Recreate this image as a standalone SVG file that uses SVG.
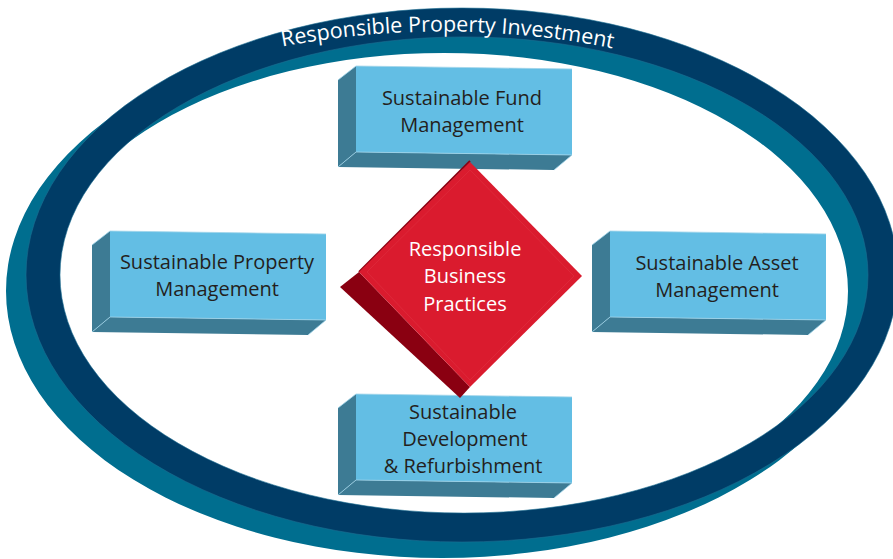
<svg xmlns="http://www.w3.org/2000/svg" width="893" height="559" viewBox="0 0 893 559">
  <defs>
    <style>
      .ring-navy { fill: #003c66; fill-rule: evenodd; stroke: #1d6e92; stroke-width: 0.6; }
      .ring-teal { fill: #006e8f; fill-rule: evenodd; }
      .ring-label { font-family: "Open Sans", "Liberation Sans", sans-serif; font-size: 21.5px; fill: #ffffff; }
      .face-front { fill: #63bee4; }
      .face-side { fill: #3d7b94; }
      .crease { fill: none; stroke: #9fd4ea; stroke-width: 0.8; }
      .box-label { font-family: "Open Sans", "Liberation Sans", sans-serif; font-size: 20px; fill: #231f20; text-anchor: middle; }
      .core-front { fill: #da1b2e; }
      .core-side { fill: #8a0011; }
      .core-label { font-family: "Open Sans", "Liberation Sans", sans-serif; font-size: 20px; fill: #ffffff; text-anchor: middle; }
    </style>
    <!-- one 3D block: front face at (0,0), receding toward lower-left -->
    <g id="block">
      <polygon class="face-side" points="0,0 -18,14 -18,101 0,86"/>
      <polygon class="face-side" points="0,86 -18,101 198,104 216,89"/>
      <polygon class="face-front" points="0,0 216,3 216,89 0,86"/>
      <polyline class="crease" points="-18,14 0,0 216,3"/>
      <polyline class="crease" points="-18,101 0,86 216,89 198,104"/>
    </g>
    <path id="ringTextPath" d="M265,50 Q447,12 630,52"/>
  </defs>

  <rect width="893" height="559" fill="#ffffff"/>

  <!-- outer ring: teal thickness behind, navy top face in front -->
  <g id="ring">
    <path class="ring-teal" transform="translate(-20,16)" d="M26,275 a436,267 0 1,0 872,0 a436,267 0 1,0 -872,0 Z M60,275 a404,238 0 1,0 808,0 a404,238 0 1,0 -808,0 Z"/>
    <path class="ring-navy" d="M26,275 a436,267 0 1,0 872,0 a436,267 0 1,0 -872,0 Z M60,275 a404,238 0 1,0 808,0 a404,238 0 1,0 -808,0 Z"/>
    <text class="ring-label"><textPath href="#ringTextPath" startOffset="50%" text-anchor="middle">Responsible Property Investment</textPath></text>
  </g>

  <g id="connectors"/>

  <g id="node-fund">
    <use href="#block" x="356" y="66"/>
    <text class="box-label" x="462" y="105">Sustainable Fund</text>
    <text class="box-label" x="462" y="132">Management</text>
  </g>

  <g id="node-property">
    <use href="#block" x="110" y="231"/>
    <text class="box-label" x="217" y="269">Sustainable Property</text>
    <text class="box-label" x="217" y="296">Management</text>
  </g>

  <g id="node-asset">
    <use href="#block" x="610" y="231"/>
    <text class="box-label" x="717" y="270">Sustainable Asset</text>
    <text class="box-label" x="717" y="297">Management</text>
  </g>

  <g id="node-development">
    <use href="#block" x="356" y="394"/>
    <text class="box-label" x="463" y="419">Sustainable</text>
    <text class="box-label" x="465" y="446">Development</text>
    <text class="box-label" x="463" y="473">&amp; Refurbishment</text>
  </g>

  <g id="node-core">
    <polygon class="core-side" points="359,272 340,287 460,398 470,387"/>
    <polyline points="359,272 470,161" fill="none" stroke="#8a0011" stroke-width="2"/>
    <polygon class="core-front" points="470,162 582,276 470,387 359,272"/>
    <polygon points="470,170 574,276 470,380 367,272" fill="none" stroke="#e8535f" stroke-width="0.7" opacity="0.35"/>
    <text class="core-label" x="465" y="256">Responsible</text>
    <text class="core-label" x="465" y="283">Business</text>
    <text class="core-label" x="465" y="311">Practices</text>
  </g>
</svg>
